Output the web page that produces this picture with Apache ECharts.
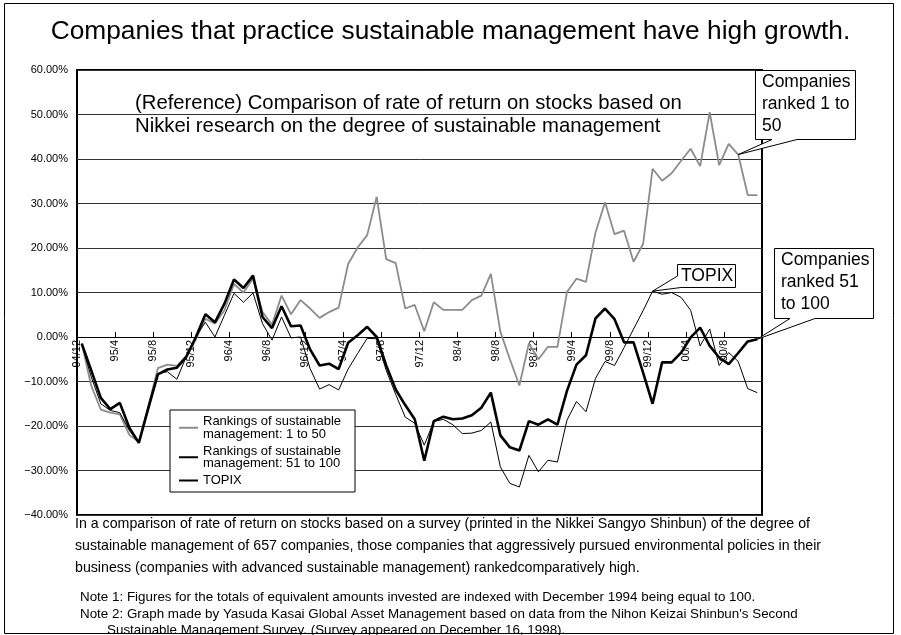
<!DOCTYPE html>
<html>
<head>
<meta charset="utf-8">
<script src="https://cdn.jsdelivr.net/npm/echarts@6/dist/echarts.min.js"></script>
<style>
  html, body { margin: 0; padding: 0; background: #fff; }
  #chart { width: 901px; height: 635px; }
</style>
</head>
<body>
<div id="chart"></div>
<script>
// * Month boundaries 94/12 .. 00/12 (labels shown every 4 months)
const months = [
  "94/12",
  "95/1", "95/2", "95/3", "95/4", "95/5", "95/6", "95/7", "95/8", "95/9", "95/10", "95/11", "95/12",
  "96/1", "96/2", "96/3", "96/4", "96/5", "96/6", "96/7", "96/8", "96/9", "96/10", "96/11", "96/12",
  "97/1", "97/2", "97/3", "97/4", "97/5", "97/6", "97/7", "97/8", "97/9", "97/10", "97/11", "97/12",
  "98/1", "98/2", "98/3", "98/4", "98/5", "98/6", "98/7", "98/8", "98/9", "98/10", "98/11", "98/12",
  "99/1", "99/2", "99/3", "99/4", "99/5", "99/6", "99/7", "99/8", "99/9", "99/10", "99/11", "99/12",
  "00/1", "00/2", "00/3", "00/4", "00/5", "00/6", "00/7", "00/8", "00/9", "00/10", "00/11", "00/12",
];

// * Rate of return (%) per month, 94/12 .. 00/11
const rank1to50 = [
  -1.5, -11, -16.3, -17, -17.4, -22, -23.6, -15.5, -7, -6.2, -6.5, -4.3, -0.5,
  4.1, 3, 6, 11.9, 10, 13.1, 5.6, 2.8, 9.3, 5.1, 8.3, 6.4,
  4.3, 5.6, 6.6, 16.4, 20.1, 22.9, 31.5, 17.5, 16.6, 6.4, 7.2, 1.3,
  7.8, 6.1, 6.1, 6.1, 8.3, 9.3, 14.2, 1.2, -5, -10.9, -1.4, -5,
  -2.2, -2.2, 10.1, 13.1, 12.4, 23.5, 30.3, 23.1, 23.9, 16.9, 20.9, 37.8,
  35.1, 36.8, 39.6, 42.3, 38.4, 50.5, 38.6, 43.4, 41, 31.9, 31.9,
];
const rank51to100 = [
  -1.5, -7.5, -13.7, -16.2, -14.8, -20.4, -23.8, -16, -8.4, -7.3, -6.9, -4.4, 0,
  5.1, 3.3, 7.5, 12.9, 11, 13.8, 4.5, 2, 6.9, 2.4, 2.6, -2.8,
  -6.4, -6, -7.2, -1.3, 0.4, 2.3, 0, -6.4, -11.8, -15.3, -18.5, -27.8,
  -18.9, -17.9, -18.5, -18.3, -17.6, -15.9, -12.5, -22.1, -24.8, -25.5, -18.9, -19.7,
  -18.5, -19.7, -12.1, -6.2, -4.1, 4.2, 6.4, 4, -1.2, -1.2, -8, -15,
  -5.7, -5.7, -3.5, -0.1, 2.1, -2, -4.6, -6.1, -3.6, -1, -0.5,
];
const topix = [
  -1.5, -9, -15, -16.5, -17, -21, -23.8, -15.5, -8.2, -7.8, -9.5, -4.3, 0.2,
  3.3, 0, 4.9, 9.8, 7.8, 9.9, 3, -0.7, 4.5, -0.2, 0, -7.1,
  -11.7, -10.7, -11.9, -7.2, -3.7, -0.3, -0.4, -7.5, -12.9, -18, -19.4, -24.3,
  -19, -18.5, -19.7, -21.7, -21.6, -21, -19.1, -29.2, -32.9, -33.7, -26.6, -30.3,
  -27.7, -28.1, -18.7, -14.5, -16.8, -9.3, -5.5, -6.4, -2.4, 1.8, 5.9, 10.3,
  9.6, 10, 8.9, 6, -2, 1.8, -6.4, -3.5, -5.5, -11.6, -12.5,
];

const seriesNames = [
  "Rankings of sustainable\nmanagement: 1 to 50",
  "Rankings of sustainable\nmanagement: 51 to 100",
  "TOPIX",
];

const font = "'Liberation Sans', Arial, sans-serif";
const narrowFont = "'Liberation Sans Narrow', 'Liberation Sans', Arial, sans-serif";

const gridTop = 70;
const gridHeight = 445;
const yMin = -40;
const yMax = 60;
// * distance from the grid bottom up to the 0% line, used to lift the month labels
const zeroLift = (gridHeight * (0 - yMin)) / (yMax - yMin);
const lastMonth = months.length - 1;

const chart = echarts.init(document.getElementById("chart"));

const option = {
  animation: false,
  backgroundColor: "#fff",
  grid: {
    left: 77,
    top: gridTop,
    width: 685,
    height: gridHeight,
    show: true,
    borderColor: "#000",
    borderWidth: 2,
  },
  legend: {
    data: seriesNames,
    orient: "vertical",
    left: 170,
    top: 410,
    itemWidth: 19,
    itemHeight: 10,
    itemGap: 4,
    padding: [5, 14, 5, 8],
    borderColor: "#000",
    borderWidth: 1,
    backgroundColor: "#fff",
    // ! hide the marker dot, keep only the line sample
    itemStyle: { opacity: 0 },
    textStyle: { fontFamily: font, fontSize: 13, lineHeight: 12.5, color: "#000" },
  },
  xAxis: [
    {
      // ! data axis: one band per month, points at band centres
      type: "category",
      data: months.slice(0, 72),
      boundaryGap: true,
      show: false,
      axisLine: { onZero: false },
    },
    {
      // ? label axis: ticks and labels on month boundaries, sitting on 0%
      type: "category",
      data: months,
      boundaryGap: false,
      position: "bottom",
      axisLine: { onZero: true, lineStyle: { color: "#000", width: 1 } },
      axisTick: {
        inside: true,
        length: 5,
        interval: (i) => i % 4 === 0 && i < lastMonth,
        lineStyle: { color: "#000" },
      },
      axisLabel: {
        interval: (i) => i % 4 === 0 && i < lastMonth,
        rotate: 90,
        margin: 3 - zeroLift,
        fontFamily: font,
        fontSize: 11,
        color: "#000",
      },
      splitLine: { show: false },
    },
  ],
  yAxis: {
    type: "value",
    min: yMin,
    max: yMax,
    interval: 10,
    axisLine: { show: false },
    axisTick: { show: false },
    axisLabel: {
      margin: 9,
      fontFamily: narrowFont,
      fontSize: 11,
      color: "#000",
      formatter: (v) => (v < 0 ? "\u2212" + Math.abs(v).toFixed(2) : v.toFixed(2)) + "%",
    },
    splitLine: { lineStyle: { color: "#333", width: 1 } },
  },
  series: [
    {
      name: seriesNames[0],
      type: "line",
      xAxisIndex: 0,
      data: rank1to50,
      symbol: "none",
      lineStyle: { color: "#8c8c8c", width: 1.8 },
      itemStyle: { color: "#8c8c8c" },
      z: 3,
    },
    {
      name: seriesNames[2],
      type: "line",
      xAxisIndex: 0,
      data: topix,
      symbol: "none",
      lineStyle: { color: "#000", width: 1 },
      itemStyle: { color: "#000" },
      z: 4,
    },
    {
      name: seriesNames[1],
      type: "line",
      xAxisIndex: 0,
      data: rank51to100,
      symbol: "none",
      lineStyle: { color: "#000", width: 2.6 },
      itemStyle: { color: "#000" },
      z: 5,
    },
  ],
};

chart.setOption(option);

// * Callout tips follow the data points they point at
const tipOf = (idx, arr) => chart.convertToPixel({ xAxisIndex: 0, yAxisIndex: 0 }, [idx, arr[idx]]);
const tip1 = tipOf(69, rank1to50);
const tipT = tipOf(60, topix);
const tip2 = tipOf(71, rank51to100);

const box = (pts) => ({
  type: "polygon",
  shape: { points: pts },
  style: { fill: "#fff", stroke: "#000", lineWidth: 1 },
  z: 100,
});
const label = (x, y, text, size) => ({
  type: "text",
  left: x,
  top: y,
  style: { text, fontFamily: font, fontSize: size, lineHeight: 22, fill: "#000" },
  z: 101,
});
const note = (x, y, text, size) => ({
  type: "text",
  left: x,
  top: y,
  style: { text, fontFamily: font, fontSize: size, fill: "#000" },
});

chart.setOption({
  graphic: [
    // ! outer frame
    {
      type: "rect",
      shape: { x: 4.5, y: 3.5, width: 889, height: 630 },
      style: { fill: "none", stroke: "#000", lineWidth: 1 },
      z: 0,
    },
    {
      type: "text",
      left: "center",
      top: 19,
      style: {
        text: "Companies that practice sustainable management have high growth.",
        fontFamily: font,
        fontSize: 26.3,
        fill: "#000",
      },
    },
    {
      type: "text",
      left: 135,
      top: 92,
      style: {
        text: "(Reference) Comparison of rate of return on stocks based on\nNikkei research on the degree of sustainable management",
        fontFamily: font,
        fontSize: 20.3,
        lineHeight: 23,
        fill: "#000",
      },
      z: 10,
    },
    // ? callout: companies ranked 1 to 50
    box([[755.5, 70.5], [855.5, 70.5], [855.5, 139.5], [797, 139.5], tip1, [772, 139.5], [755.5, 139.5]]),
    label(762, 71, "Companies\nranked 1 to\n50", 17.5),
    // ? callout: TOPIX
    box([[677.5, 264.5], [735.5, 264.5], [735.5, 287.5], [681, 287.5], tipT, [677.5, 276]]),
    label(681, 265, "TOPIX", 17.5),
    // ? callout: companies ranked 51 to 100
    box([[774.5, 248.5], [873.5, 248.5], [873.5, 318.5], [815, 318.5], tip2, [790, 318.5], [774.5, 318.5]]),
    label(781, 249, "Companies\nranked 51\nto 100", 17.5),
    // * notes under the chart
    note(75, 517, "In a comparison of rate of return on stocks based on a survey (printed in the Nikkei Sangyo Shinbun) of the degree of", 14.2),
    note(75, 539, "sustainable management of 657 companies, those companies that aggressively pursued environmental policies in their", 14.2),
    note(75, 561, "business (companies with advanced sustainable management) rankedcomparatively high.", 14.2),
    note(80, 591, "Note 1: Figures for the totals of equivalent amounts invested are indexed with December 1994 being equal to 100.", 13.4),
    note(80, 608, "Note 2: Graph made by Yasuda Kasai Global Asset Management based on data from the Nihon Keizai Shinbun's Second", 13.4),
    note(107, 624, "Sustainable Management Survey. (Survey appeared on December 16, 1998).", 13.4),
  ],
});
</script>
</body>
</html>
